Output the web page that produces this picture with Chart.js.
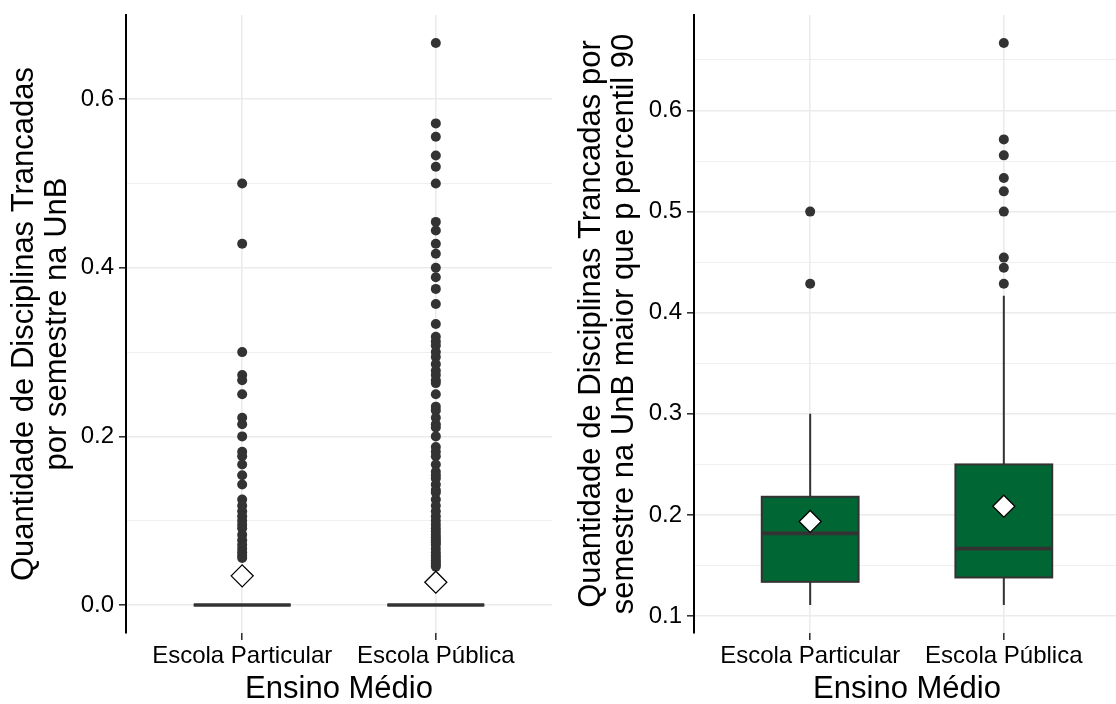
<!DOCTYPE html>
<html>
<head>
<meta charset="utf-8">
<script src="https://cdn.jsdelivr.net/npm/chart.js@4.4.1/dist/chart.umd.min.js"></script>
<style>
  html, body { margin: 0; padding: 0; background: #ffffff; overflow: hidden; width: 1116px; height: 704px; }
  canvas { position: absolute; top: 0; }
  #painelTodos { left: 0; }
  #painelP90 { left: 560px; }
</style>
</head>
<body>
<canvas id="painelTodos" width="560" height="704"></canvas>
<canvas id="painelP90" width="560" height="704"></canvas>
<script>
// ---- Dados ----
const categories = ['Escola Particular', 'Escola Pública'];

// Resumo de cada caixa: [bigode inferior, Q1, mediana, Q3, bigode superior]
const todosBoxParticular = [0, 0, 0, 0, 0];
const todosBoxPublica = [0, 0, 0, 0, 0];
const todosMedias = [0.0345, 0.027];

const todosOutliersParticular = [
  0.5, 0.4286, 0.3, 0.2727, 0.2667, 0.25, 0.2222, 0.2143, 0.2, 0.1818, 0.1765,
  0.1667, 0.1538, 0.1429, 0.125, 0.1176, 0.1111, 0.1053, 0.1, 0.0952, 0.0909,
  0.0833, 0.0769, 0.0714, 0.0667, 0.0625, 0.0588, 0.0556
];
const todosOutliersPublica = [
  0.6667, 0.5714, 0.5556, 0.5333, 0.52, 0.5, 0.4545, 0.4444, 0.4286, 0.4167,
  0.4, 0.3889, 0.375, 0.3571, 0.3333, 0.3182, 0.3125, 0.3077, 0.3, 0.2941,
  0.2857, 0.2778, 0.2727, 0.2667, 0.2632, 0.25, 0.2353, 0.2308, 0.2222, 0.2143,
  0.2105, 0.2, 0.1875, 0.1818, 0.1765, 0.1667, 0.1579, 0.1538, 0.15, 0.1429,
  0.1364, 0.1333, 0.125, 0.1176, 0.1111, 0.1053, 0.1, 0.0952, 0.0909, 0.087,
  0.0833, 0.08, 0.0769, 0.0741, 0.0714, 0.0667, 0.0625, 0.0588, 0.0556, 0.0526,
  0.05, 0.0476, 0.0455
];

const p90BoxParticular = [0.1111, 0.1339, 0.1818, 0.218, 0.3];
const p90BoxPublica = [0.1111, 0.1382, 0.1667, 0.25, 0.4167];
const p90Medias = [0.1936, 0.2087];
const p90OutliersParticular = [0.5, 0.4286];
const p90OutliersPublica = [0.6667, 0.5714, 0.5556, 0.5333, 0.52, 0.5, 0.4545, 0.4444, 0.4286];

// Marcas do eixo y
const todosTicksPrincipais = [0, 0.2, 0.4, 0.6];
const todosTicksSecundarios = [0.1, 0.3, 0.5];
const p90TicksPrincipais = [0.1, 0.2, 0.3, 0.4, 0.5, 0.6];
const p90TicksSecundarios = [0.15, 0.25, 0.35, 0.45, 0.55, 0.65];

// ---- Aparência ----
const FONTE = "'Liberation Sans', Arial, sans-serif";
const VERDE = '#006633';
const CINZA_ESCURO = '#333333';
const GRADE = '#ebebeb';

function isMajor(v, majors) {
  return majors.some(m => Math.abs(m - v) < 1e-9);
}

function boxPlugin(stats) {
  return {
    id: 'caixas',
    beforeDatasetsDraw(chart) {
      const { ctx, scales: { x, y } } = chart;
      stats.forEach((s, i) => {
        const cx = x.getPixelForValue(i + 1);
        const half = x.getPixelForValue(i + 1.25) - cx;
        const [lo, q1, med, q3, hi] = s.map(v => y.getPixelForValue(v));
        ctx.save();
        ctx.strokeStyle = CINZA_ESCURO;
        // bigodes
        ctx.lineWidth = 2;
        ctx.beginPath();
        ctx.moveTo(cx, q3); ctx.lineTo(cx, hi);
        ctx.moveTo(cx, q1); ctx.lineTo(cx, lo);
        ctx.stroke();
        // caixa
        ctx.fillStyle = VERDE;
        ctx.fillRect(cx - half, q3, 2 * half, q1 - q3);
        ctx.lineWidth = 2;
        ctx.strokeRect(cx - half, q3, 2 * half, q1 - q3);
        // mediana
        ctx.lineWidth = 3.6;
        ctx.beginPath();
        ctx.moveTo(cx - half, med); ctx.lineTo(cx + half, med);
        ctx.stroke();
        ctx.restore();
      });
    }
  };
}

function buildPanel(canvasId, cfg) {
  const outlierPoints = [];
  cfg.outliers.forEach((list, i) => list.forEach(v => outlierPoints.push({ x: i + 1, y: v })));
  const meanPoints = cfg.means.map((m, i) => ({ x: i + 1, y: m }));
  const allTicks = [...cfg.majors, ...cfg.minors].sort((a, b) => a - b);

  return new Chart(document.getElementById(canvasId), {
    type: 'scatter',
    data: {
      datasets: [
        {
          label: 'Média',
          data: meanPoints,
          pointStyle: 'rectRot',
          pointRadius: 11,
          backgroundColor: '#ffffff',
          borderColor: '#000000',
          borderWidth: 1.3
        },
        {
          label: 'Valores atípicos',
          data: outlierPoints,
          pointStyle: 'circle',
          pointRadius: 5,
          backgroundColor: CINZA_ESCURO,
          borderWidth: 0
        }
      ]
    },
    options: {
      responsive: false,
      animation: false,
      devicePixelRatio: 1,
      events: [],
      layout: { autoPadding: false, padding: { top: 15, right: cfg.padRight, left: 0, bottom: 0 } },
      plugins: { legend: { display: false }, tooltip: { enabled: false } },
      scales: {
        x: {
          type: 'linear',
          min: 0.4,
          max: 2.6,
          afterBuildTicks: s => { s.ticks = categories.map((c, i) => ({ value: i + 1 })); },
          afterFit: s => { s.height = 71; s.paddingLeft = 0; s.paddingRight = 0; },
          ticks: {
            callback: v => categories[Math.round(v) - 1] || '',
            font: { family: FONTE, size: 24 },
            color: '#000000',
            padding: 2,
            maxRotation: 0,
            autoSkip: false
          },
          grid: { color: GRADE, lineWidth: 1.6, tickLength: 7, tickColor: CINZA_ESCURO, tickWidth: 1.6 },
          border: { display: false },
          title: {
            display: true,
            text: 'Ensino Médio',
            font: { family: FONTE, size: 31, lineHeight: 1.0 },
            color: '#000000',
            padding: { top: 0, bottom: -1 }
          }
        },
        y: {
          type: 'linear',
          min: cfg.yMin,
          max: cfg.yMax,
          afterBuildTicks: s => { s.ticks = allTicks.map(v => ({ value: v })); },
          afterFit: s => { s.width = cfg.yWidth; s.paddingTop = 0; s.paddingBottom = 0; },
          ticks: {
            callback: v => isMajor(v, cfg.majors) ? v.toFixed(1) : '',
            font: { family: FONTE, size: 24 },
            color: '#000000',
            padding: 5,
            autoSkip: false
          },
          grid: {
            color: GRADE,
            lineWidth: c => (c.tick && isMajor(c.tick.value, cfg.majors)) ? 1.6 : 0.8,
            tickLength: 7,
            tickWidth: 1.6,
            tickColor: c => (c.tick && isMajor(c.tick.value, cfg.majors)) ? CINZA_ESCURO : 'rgba(0,0,0,0)'
          },
          border: { display: true, color: '#000000', width: 2 },
          title: {
            display: true,
            text: cfg.yTitle,
            font: { family: FONTE, size: 31, lineHeight: 33 / 31 },
            color: '#000000',
            padding: { top: cfg.yTitlePad, bottom: 0 }
          }
        }
      }
    },
    plugins: [boxPlugin(cfg.stats)]
  });
}

buildPanel('painelTodos', {
  stats: [todosBoxParticular, todosBoxPublica],
  means: todosMedias,
  outliers: [todosOutliersParticular, todosOutliersPublica],
  majors: todosTicksPrincipais,
  minors: todosTicksSecundarios,
  yMin: -0.0333,
  yMax: 0.7,
  yWidth: 126,
  yTitlePad: 8,
  padRight: 8,
  yTitle: ['Quantidade de Disciplinas Trancadas', 'por semestre na UnB']
});

buildPanel('painelP90', {
  stats: [p90BoxParticular, p90BoxPublica],
  means: p90Medias,
  outliers: [p90OutliersParticular, p90OutliersPublica],
  majors: p90TicksPrincipais,
  minors: p90TicksSecundarios,
  yMin: 0.0833,
  yMax: 0.6944,
  yWidth: 134,
  yTitlePad: 15,
  padRight: 0,
  yTitle: ['Quantidade de Disciplinas Trancadas por', 'semestre na UnB maior que p percentil 90']
});
</script>
</body>
</html>
